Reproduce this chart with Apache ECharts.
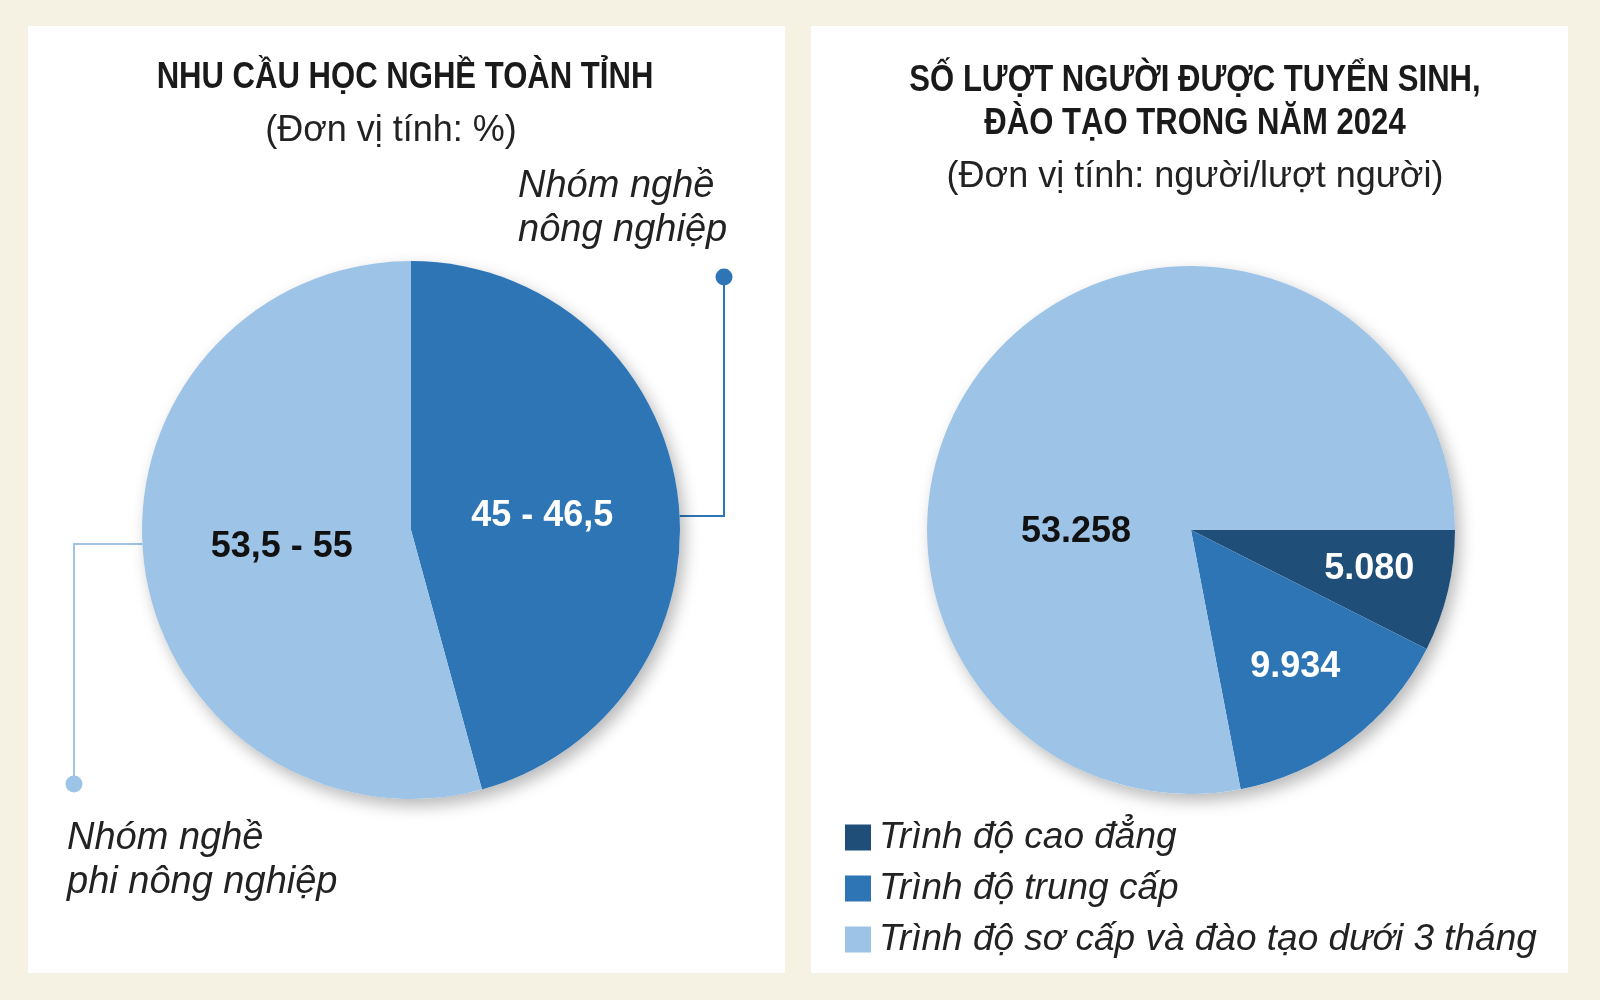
<!DOCTYPE html>
<html>
<head>
<meta charset="utf-8">
<script src="https://cdn.jsdelivr.net/npm/echarts@6/dist/echarts.min.js"></script>
<style>
html,body{margin:0;padding:0;background:#F5F2E4;}
#c{width:1600px;height:1000px;}
</style>
</head>
<body>
<div id="c"></div>
<script>
// ---- DATA ----
const groupCategories = ['Nhóm nghề nông nghiệp', 'Nhóm nghề phi nông nghiệp'];
const groupValues = [45.75, 54.25];
const groupLabels = ['45 - 46,5', '53,5 - 55'];

const levelCategories = ['Trình độ cao đẳng', 'Trình độ trung cấp', 'Trình độ sơ cấp và đào tạo dưới 3 tháng'];
const levelValues = [5080, 9934, 53258];

const leftTitle = 'NHU CẦU HỌC NGHỀ TOÀN TỈNH';
const leftUnit = '(Đơn vị tính: %)';
const rightTitle = 'SỐ LƯỢT NGƯỜI ĐƯỢC TUYỂN SINH,\nĐÀO TẠO TRONG NĂM 2024';
const rightUnit = '(Đơn vị tính: người/lượt người)';
const annotTop = 'Nhóm nghề\nnông nghiệp';
const annotBottom = 'Nhóm nghề\nphi nông nghiệp';

// ---- STYLE ----
const SANS = '"Liberation Sans", Arial, sans-serif';
const DARK = '#1F4E79', MID = '#2E75B6', LIGHT = '#9DC3E6';
const groupColors = [MID, LIGHT];
const groupLabelColors = ['#ffffff', '#111111'];
const groupLabelOffsets = [[-5, 4], [7, -1]];
const levelColors = [DARK, MID, LIGHT];
const levelLabelColors = ['#ffffff', '#ffffff', '#111111'];
const levelLabelOffsets = [[47, 8], [23, 29], [-11, 88]];

const leftCenter = [411, 530], leftR = 269;
const rightCenter = [1191, 530], rightR = 264;

function fmtThousands(v) {
  return String(v).replace(/\B(?=(\d{3})+(?!\d))/g, '.');
}
function sum(a) { return a.reduce((s, x) => s + x, 0); }

const chart = echarts.init(document.getElementById('c'), null, { renderer: 'canvas' });

const labelBase = { show: true, position: 'inside', fontFamily: SANS, fontWeight: 'bold', fontSize: 36 };
const shadowStyle = { color: '#ffffff', shadowBlur: 16, shadowOffsetX: 5, shadowOffsetY: 7, shadowColor: 'rgba(0,0,0,0.28)' };
const titleFont = 'bold 37px ' + SANS;
const unitFont = '36px ' + SANS;
const annotFont = 'italic 38px ' + SANS;

const option = {
  animation: false,
  backgroundColor: '#F5F2E4',
  legend: {
    orient: 'vertical', left: 840, top: 814,
    itemWidth: 26, itemHeight: 26, itemGap: 14, icon: 'rect',
    selectedMode: false,
    data: levelCategories,
    textStyle: { fontFamily: SANS, fontStyle: 'italic', fontSize: 37, color: '#222', padding: [0, 0, 0, 3] }
  },
  graphic: [
    { type: 'rect', z: -10, shape: { x: 28, y: 26, width: 757, height: 947 }, style: { fill: '#ffffff' } },
    { type: 'rect', z: -10, shape: { x: 811, y: 26, width: 757, height: 947 }, style: { fill: '#ffffff' } },
    // titles (condensed bold look)
    { type: 'text', z: 5, x: 405, y: 58, scaleX: 0.84, style: { text: leftTitle, font: titleFont, fill: '#1a1a1a', align: 'center', verticalAlign: 'top', lineHeight: 40 } },
    { type: 'text', z: 5, x: 391, y: 112, style: { text: leftUnit, font: unitFont, fill: '#222', align: 'center', verticalAlign: 'top', lineHeight: 38 } },
    { type: 'text', z: 5, x: 1195, y: 59, scaleX: 0.84, style: { text: rightTitle, font: titleFont, fill: '#1a1a1a', align: 'center', verticalAlign: 'top', lineHeight: 43 } },
    { type: 'text', z: 5, x: 1195, y: 158, style: { text: rightUnit, font: unitFont, fill: '#222', align: 'center', verticalAlign: 'top', lineHeight: 38 } },
    // leader line: agricultural group
    { type: 'polyline', z: 1, shape: { points: [[660, 516], [724, 516], [724, 277]] }, style: { stroke: MID, lineWidth: 2, fill: null } },
    { type: 'circle', z: 1, shape: { cx: 724, cy: 277, r: 8.5 }, style: { fill: MID } },
    { type: 'text', z: 1, x: 518, y: 164, style: { text: annotTop, font: annotFont, lineHeight: 44, fill: '#222', align: 'left', verticalAlign: 'top' } },
    // leader line: non-agricultural group
    { type: 'polyline', z: 1, shape: { points: [[160, 544], [74, 544], [74, 784]] }, style: { stroke: LIGHT, lineWidth: 2, fill: null } },
    { type: 'circle', z: 1, shape: { cx: 74, cy: 784, r: 8.5 }, style: { fill: LIGHT } },
    { type: 'text', z: 1, x: 67, y: 816, style: { text: annotBottom, font: annotFont, lineHeight: 44, fill: '#222', align: 'left', verticalAlign: 'top' } }
  ],
  series: [
    { type: 'pie', name: 'shadowL', silent: true, z: 1, center: leftCenter, radius: leftR,
      data: [{ name: '', value: sum(groupValues) }], label: { show: false }, labelLine: { show: false },
      itemStyle: shadowStyle, emphasis: { disabled: true } },
    { type: 'pie', name: 'group', silent: true, z: 2, center: leftCenter, radius: leftR,
      startAngle: 90, clockwise: true,
      data: groupCategories.map((n, i) => ({ name: n, value: groupValues[i], itemStyle: { color: groupColors[i] }, label: { color: groupLabelColors[i] } })),
      label: Object.assign({}, labelBase, { formatter: p => groupLabels[p.dataIndex] }),
      labelLayout: p => ({ dx: groupLabelOffsets[p.dataIndex][0], dy: groupLabelOffsets[p.dataIndex][1] }),
      labelLine: { show: false }, itemStyle: { borderWidth: 0 }, emphasis: { disabled: true } },
    { type: 'pie', name: 'shadowR', silent: true, z: 1, center: rightCenter, radius: rightR,
      data: [{ name: '', value: sum(levelValues) }], label: { show: false }, labelLine: { show: false },
      itemStyle: shadowStyle, emphasis: { disabled: true } },
    { type: 'pie', name: 'level', silent: true, z: 2, center: rightCenter, radius: rightR,
      startAngle: 0, clockwise: true,
      data: levelCategories.map((n, i) => ({ name: n, value: levelValues[i], itemStyle: { color: levelColors[i] }, label: { color: levelLabelColors[i] } })),
      label: Object.assign({}, labelBase, { formatter: p => fmtThousands(p.value) }),
      labelLayout: p => ({ dx: levelLabelOffsets[p.dataIndex][0], dy: levelLabelOffsets[p.dataIndex][1] }),
      labelLine: { show: false }, itemStyle: { borderWidth: 0 }, emphasis: { disabled: true } }
  ]
};
chart.setOption(option);
</script>
</body>
</html>
